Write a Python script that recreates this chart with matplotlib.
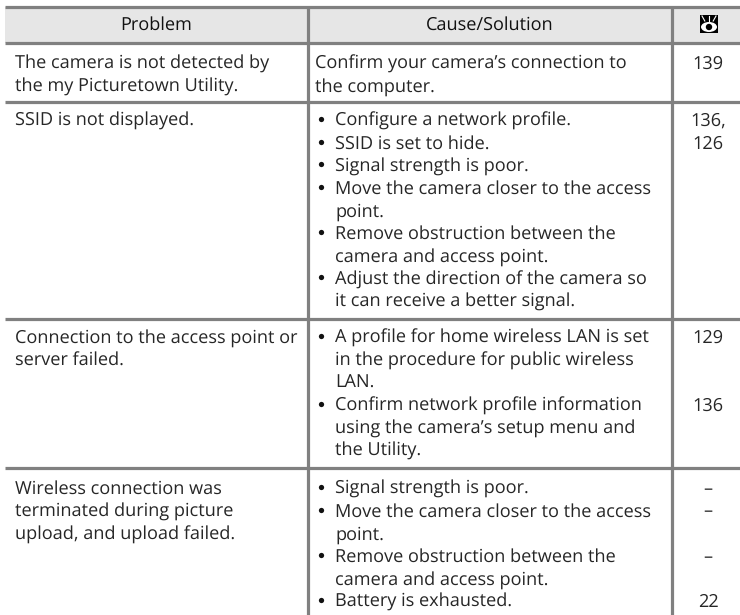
import matplotlib.pyplot as plt
from matplotlib.patches import Rectangle, Ellipse, Circle

plt.rcParams["text.hinting"] = "no_hinting"

# -----------------------------
# TABLE TEXT
# -----------------------------
headers = ["Problem", "Cause/Solution"]

problems = [
    ["The camera is not detected by", "the my Picturetown Utility."],
    ["SSID is not displayed."],
    ["Connection to the access point or", "server failed."],
    ["Wireless connection was", "terminated during picture", "upload, and upload failed."],
]

# "* " marks a line that starts a bullet
causes = [
    ["Confirm your camera\u2019s connection to", "the computer."],
    ["* Configure a network profile.", "* SSID is set to hide.", "* Signal strength is poor.",
     "* Move the camera closer to the access", "point.", "* Remove obstruction between the",
     "camera and access point.", "* Adjust the direction of the camera so",
     "it can receive a better signal."],
    ["* A profile for home wireless LAN is set", "in the procedure for public wireless", "LAN.",
     "* Confirm network profile information", "using the camera\u2019s setup menu and", "the Utility."],
    ["* Signal strength is poor.", "* Move the camera closer to the access", "point.",
     "* Remove obstruction between the", "camera and access point.", "* Battery is exhausted."],
]

# page refs, as (line number in the row, text)
pages = [
    [(0, "139")],
    [(0, "136,"), (1, "126")],
    [(0, "129"), (3, "136")],
    [(0, "\u2013"), (1, "\u2013"), (3, "\u2013"), (5, "22")],
]

# -----------------------------
# LAYOUT (pixels)
# -----------------------------
W, H = 740, 615
col_x = [5, 308, 672, 740]
row_lines = [7, 43, 102, 319, 468]
row_base = [69, 126, 343, 494]
line_gap = 22.6
grey = "#808080"
ink = "#262626"
font = "Open Sans"
size = 13.1

fig = plt.figure(figsize=(W / 100, H / 100), dpi=100)
ax = fig.add_axes([0, 0, 1, 1])
ax.set_xlim(0, W)
ax.set_ylim(H, 0)
ax.axis("off")

# header band
ax.add_patch(Rectangle((col_x[0], row_lines[0]), col_x[-1] - col_x[0], row_lines[1] - row_lines[0],
                       color="#e6e6e6", lw=0))

# rules
for y in row_lines:
    ax.plot([col_x[0], col_x[-1]], [y, y], color=grey, lw=2.3, solid_capstyle="butt")
for x in col_x[1:3]:
    ax.plot([x, x], [row_lines[0], H], color=grey, lw=2.3, solid_capstyle="butt")

# header text
ax.text((col_x[0] + col_x[1]) / 2, 30, headers[0], ha="center", va="baseline", family=font, fontsize=size, color="#111111")
ax.text((col_x[1] + col_x[2]) / 2, 30, headers[1], ha="center", va="baseline", family=font, fontsize=size, color="#111111")

# eye icon in the last header cell
cx, cy = 709, 24
ax.add_patch(Rectangle((cx - 9, cy - 9), 18, 18, color="black", lw=0, zorder=3))
ax.add_patch(Ellipse((cx, cy + 3), 16, 10, color="white", lw=0, zorder=4))
ax.add_patch(Circle((cx, cy + 3), 3.2, color="black", lw=0, zorder=5))
for dx in (-7, 0, 7):
    ax.plot([cx + dx, cx + dx * 0.6], [cy - 8, cy - 3], color="white", lw=0.8, zorder=4)

# body
for r in range(len(problems)):
    y0 = row_base[r]
    for i, line in enumerate(problems[r]):
        ax.text(15, y0 + i * line_gap, line, ha="left", va="baseline", family=font, fontsize=size, color=ink)
    for i, line in enumerate(causes[r]):
        y = y0 + i * line_gap
        if line.startswith("* "):
            ax.plot([321], [y - 7], "o", color="#111111", ms=3.8, mew=0)
            line = line[2:]
        x = 335 if causes[r][0].startswith("*") else 315
        ax.text(x, y, line, ha="left", va="baseline", family=font, fontsize=size, color=ink)
    for i, p in pages[r]:
        ax.text(708, y0 + i * line_gap, p, ha="center", va="baseline", family=font, fontsize=size, color=ink)

fig.savefig("out.png", dpi=100)
